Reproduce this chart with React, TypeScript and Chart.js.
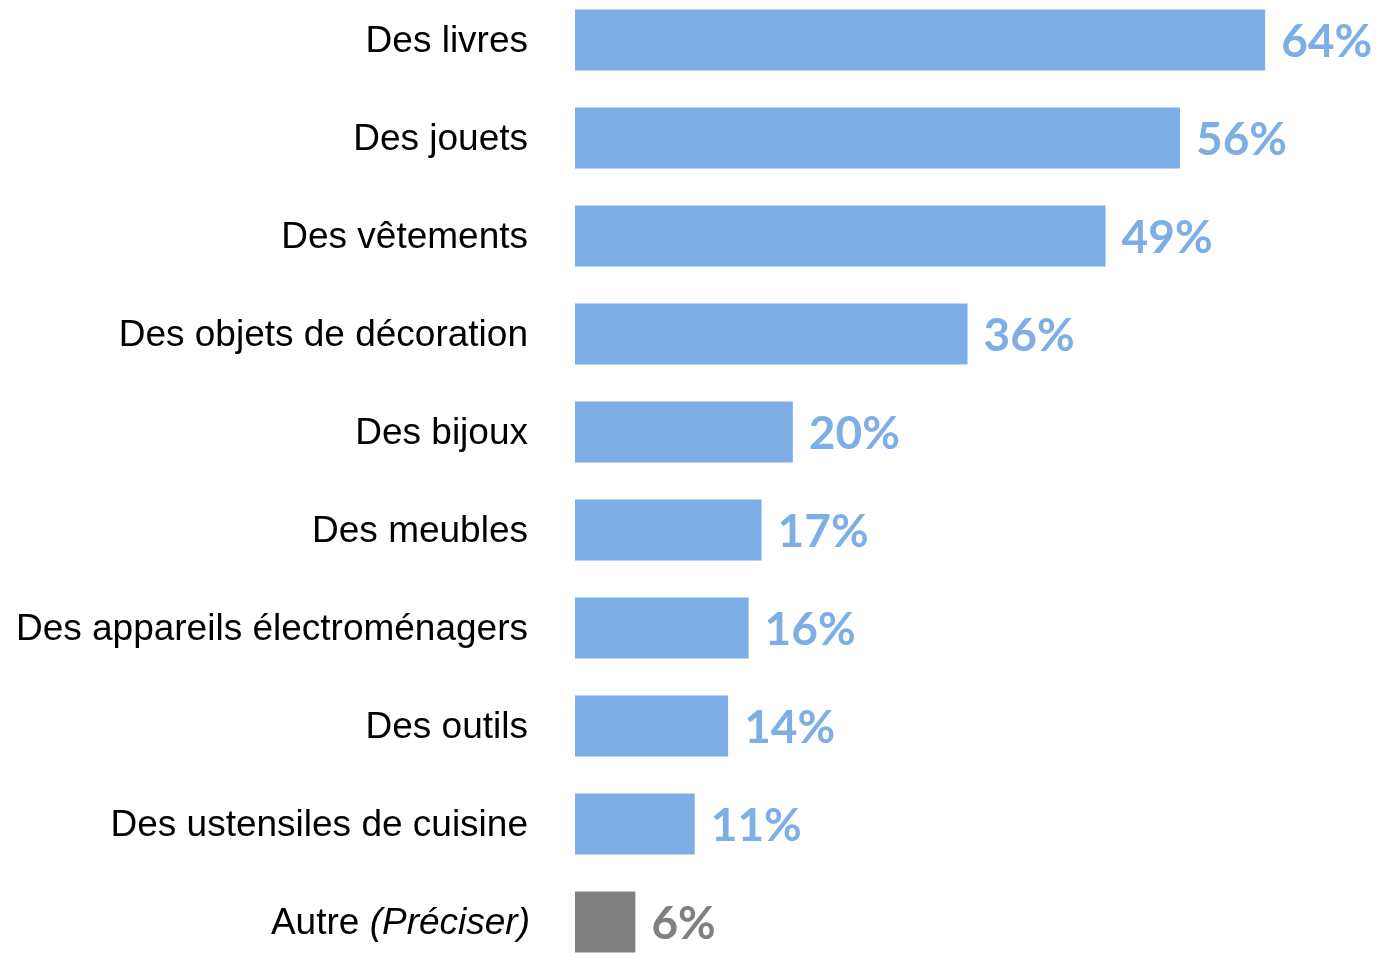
import React, { useEffect, useRef } from "react";
import { Chart, registerables } from "chart.js";

Chart.register(...registerables);

const categories = [
  "Des livres",
  "Des jouets",
  "Des vêtements",
  "Des objets de décoration",
  "Des bijoux",
  "Des meubles",
  "Des appareils électroménagers",
  "Des outils",
  "Des ustensiles de cuisine",
  "Autre",
];
const lastLabelItalic = "(Préciser)";
const values = [64, 56.1, 49.2, 36.4, 20.2, 17.3, 16.1, 14.2, 11.1, 5.6];
const barColors = [
  "#7DAEE6", "#7DAEE6", "#7DAEE6", "#7DAEE6", "#7DAEE6",
  "#7DAEE6", "#7DAEE6", "#7DAEE6", "#7DAEE6", "#808080",
];

const W = 1381;
const H = 980;
const AXIS_W = 575;

const labelsPlugin = {
  id: "customLabels",
  afterDatasetsDraw(chart: any) {
    const ctx = chart.ctx;
    const yScale = chart.scales.y;
    const meta = chart.getDatasetMeta(0);
    ctx.save();
    const font = "37px 'Liberation Sans', Arial, sans-serif";
    const fontIt = "italic 37px 'Liberation Sans', Arial, sans-serif";
    categories.forEach((c, i) => {
      const y = yScale.getPixelForValue(i) + 2;
      ctx.fillStyle = "#000000";
      ctx.textBaseline = "middle";
      const right = 528;
      if (i === categories.length - 1) {
        ctx.font = fontIt;
        const itW = ctx.measureText(lastLabelItalic).width;
        ctx.textAlign = "right";
        ctx.fillText(lastLabelItalic, right + 2, y);
        ctx.font = font;
        ctx.fillText(c + " ", right + 2 - itW, y);
      } else {
        ctx.font = font;
        ctx.textAlign = "right";
        ctx.fillText(c, right, y);
      }
    });
    meta.data.forEach((bar: any, i: number) => {
      ctx.font = "bold 46px Lato, 'Open Sans', sans-serif";
      ctx.fillStyle = barColors[i];
      ctx.textAlign = "left";
      ctx.textBaseline = "middle";
      ctx.fillText(Math.round(values[i]) + "%", bar.x + 16, bar.y + 2);
    });
    ctx.restore();
  },
};

export default function App() {
  const ref = useRef<HTMLCanvasElement | null>(null);
  useEffect(() => {
    document.body.style.margin = "0";
    document.body.style.overflow = "hidden";
    const chart = new Chart(ref.current as HTMLCanvasElement, {
      type: "bar",
      data: {
        labels: categories,
        datasets: [
          {
            data: values,
            backgroundColor: barColors,
            borderWidth: 0,
            categoryPercentage: 1,
            barPercentage: 0.622,
          },
        ],
      },
      options: {
        indexAxis: "y",
        responsive: false,
        animation: false,
        layout: { padding: { left: 0, right: 8, top: 0, bottom: 0 } },
        plugins: {
          legend: { display: false },
          tooltip: { enabled: false },
        },
        scales: {
          x: {
            display: false,
            min: 0,
            max: 74,
          },
          y: {
            grid: { display: false, drawTicks: false },
            border: { display: false },
            ticks: { display: false },
            afterFit(scale: any) {
              scale.width = AXIS_W;
            },
          },
        },
      },
      plugins: [labelsPlugin],
    });
    return () => chart.destroy();
  }, []);
  return (
    <div style={{ position: "fixed", left: 0, top: -9, width: W, height: H }}>
      <canvas ref={ref} width={W} height={H} />
    </div>
  );
}
